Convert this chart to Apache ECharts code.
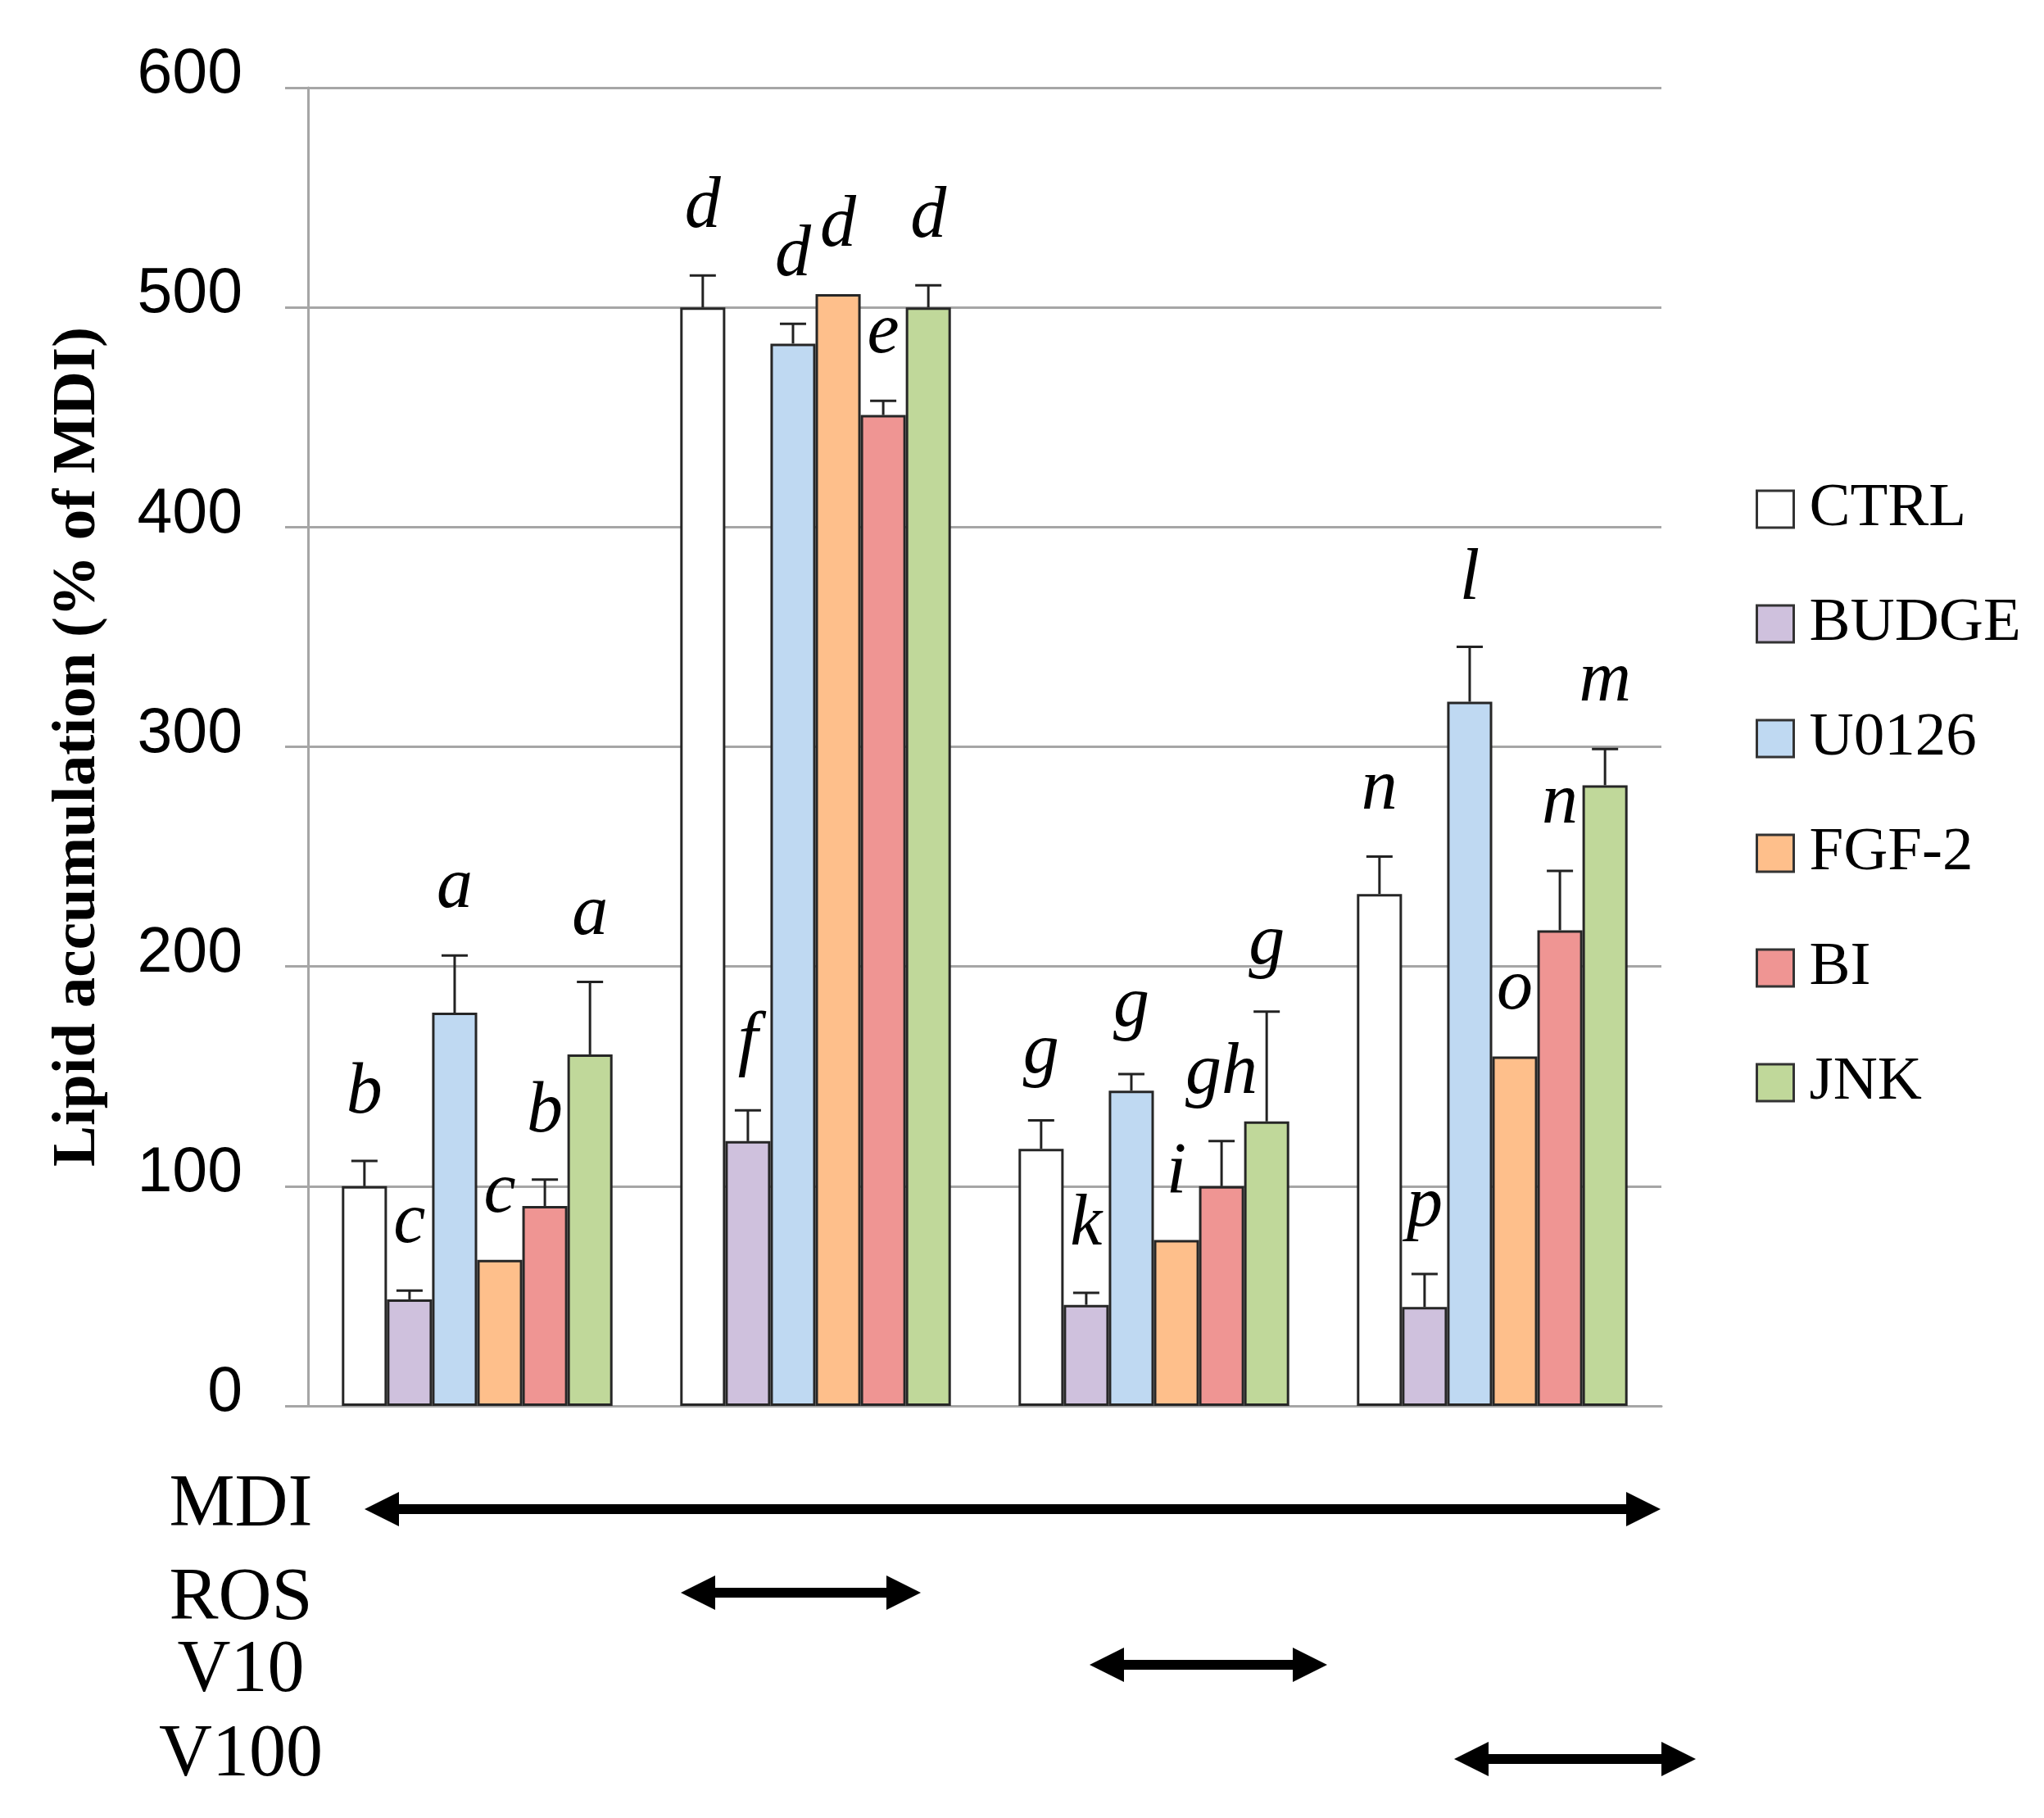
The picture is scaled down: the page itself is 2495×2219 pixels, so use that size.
<!DOCTYPE html>
<html lang="en">
  <head>
    <meta charset="UTF-8" />
    <title>Lipid accumulation</title>
    <script src="https://cdn.jsdelivr.net/npm/echarts@6.0.0/dist/echarts.min.js"></script>
    <style>
      body { margin: 0; background: #fff; }
    </style>
  </head>
  <body>
    <div id="main" style="width: 2495px; height: 2219px"></div>
  </body>
  <script>
    // groups along the x axis (labels are hidden, treatments shown below)
    const groups = ["MDI", "MDI+ROS", "MDI+V10", "MDI+V100"];
    const names = ["CTRL", "BUDGE", "U0126", "FGF-2", "BI", "JNK"];
    const colors = ["#ffffff", "#cfc1dd", "#bfd9f2", "#febf8b", "#ef9593", "#c0d89a"];

    // mean values
    const ctrl = [100, 500, 117, 233];
    const budge = [48.5, 120.5, 46, 45];
    const u0126 = [179, 483.5, 143.5, 320.5];
    const fgf2 = [66.5, 506, 75.5, 159];
    const bi = [91, 451, 100, 216.5];
    const jnk = [160, 500, 129.5, 282.5];

    // upper error
    const ctrlErr = [11.5, 14.5, 13, 17];
    const budgeErr = [4, 14, 5.5, 15];
    const u0126Err = [26, 9, 7.5, 25];
    const fgf2Err = [0, 0, 0, 0];
    const biErr = [12, 6.5, 20.5, 27];
    const jnkErr = [33, 10, 50, 16.5];

    // significance letters
    const ctrlSig = ["b", "d", "g", "n"];
    const budgeSig = ["c", "f", "k", "p"];
    const u0126Sig = ["a", "d", "g", "l"];
    const fgf2Sig = ["c", "d", "i", "o"];
    const biSig = ["b", "e", "gh", "n"];
    const jnkSig = ["a", "d", "g", "m"];

    const yTicks = [0, 100, 200, 300, 400, 500, 600];

    const values = [ctrl, budge, u0126, fgf2, bi, jnk];
    const errs = [ctrlErr, budgeErr, u0126Err, fgf2Err, biErr, jnkErr];
    const sigs = [ctrlSig, budgeSig, u0126Sig, fgf2Sig, biSig, jnkSig];

    // treatment rows under the chart: [label, arrow from x, to x, arrow y, label y]
    const treatments = [
      ["MDI", 445, 2027, 1842, 1838],
      ["ROS", 831, 1124, 1944, 1952],
      ["V10", 1330, 1620, 2032, 2040],
      ["V100", 1775, 2070, 2147, 2143],
    ];

    const gray = "#a6a6a6";
    const serif = "Liberation Serif";

    var myChart = echarts.init(document.getElementById("main"));

    // flat data for error bars + letters
    const errData = [];
    const errLetters = [];
    values.forEach((arr, s) => {
      arr.forEach((v, g) => {
        errData.push([g, v, errs[s][g], s]);
        errLetters.push(sigs[s][g]);
      });
    });

    function arrowPoints(x1, x2, y) {
      const t = 6, h = 42, w = 21;
      return [
        [x1, y], [x1 + h, y - w], [x1 + h, y - t], [x2 - h, y - t],
        [x2 - h, y - w], [x2, y], [x2 - h, y + w], [x2 - h, y + t],
        [x1 + h, y + t], [x1 + h, y + w],
      ];
    }

    const graphics = [];
    treatments.forEach((t) => {
      graphics.push({
        type: "text",
        x: 294,
        y: t[4],
        style: {
          text: t[0],
          fontSize: 90,
          fontFamily: serif,
          fill: "#000",
          align: "center",
          verticalAlign: "middle",
        },
      });
      graphics.push({
        type: "polygon",
        shape: { points: arrowPoints(t[1], t[2], t[3]) },
        style: { fill: "#000" },
      });
    });

    const barSeries = names.map((n, s) => ({
      name: n,
      type: "bar",
      data: values[s],
      barGap: "0%",
      barCategoryGap: "20%",
      itemStyle: { color: colors[s], borderColor: "#262626", borderWidth: 3 },
    }));

    var option = {
      animation: false,
      grid: { left: 376, right: 467, top: 107, bottom: 503 },
      legend: {
        data: names,
        orient: "vertical",
        left: 2143,
        top: 584,
        padding: 0,
        itemWidth: 45,
        itemHeight: 45,
        itemGap: 65,
        icon: "rect",
        itemStyle: { borderColor: "#333", borderWidth: 3 },
        textStyle: {
          fontSize: 75,
          lineHeight: 74,
          fontFamily: serif,
          color: "#000",
          padding: [0, 0, 0, 14],
        },
      },
      xAxis: {
        type: "category",
        data: groups,
        axisLine: { lineStyle: { color: gray, width: 3 } },
        axisTick: { length: 29, lineStyle: { color: gray, width: 3 } },
        axisLabel: { show: false },
      },
      yAxis: {
        type: "value",
        min: yTicks[0],
        max: yTicks[yTicks.length - 1],
        interval: 100,
        name: "Lipid accumulation (% of MDI)",
        nameLocation: "middle",
        nameGap: 243,
        nameTextStyle: {
          fontSize: 75,
          fontWeight: "bold",
          fontFamily: serif,
          color: "#000",
        },
        axisLine: { show: true, lineStyle: { color: gray, width: 3 } },
        axisTick: { show: true, length: 28, lineStyle: { color: gray, width: 3 } },
        splitLine: { lineStyle: { color: gray, width: 3 } },
        axisLabel: {
          margin: 80,
          fontSize: 77,
          fontFamily: "Liberation Sans",
          color: "#000",
          verticalAlign: "bottom",
          lineHeight: 30,
        },
      },
      graphic: graphics,
      series: barSeries.concat([
        {
          type: "custom",
          data: errData,
          z: 5,
          silent: true,
          renderItem: function (params, api) {
            const g = api.value(0);
            const v = api.value(1);
            const e = api.value(2);
            const s = api.value(3);
            const bw = (api.size([1, 0])[0] * 0.8) / 6;
            const base = api.coord([g, v]);
            const cx = base[0] + (s - 2.5) * bw;
            const top = api.coord([g, v + e])[1];
            const children = [];
            if (e > 0) {
              children.push({
                type: "line",
                shape: { x1: cx, y1: base[1], x2: cx, y2: top },
                style: { stroke: "#222", lineWidth: 3 },
              });
              children.push({
                type: "line",
                shape: { x1: cx - 16, y1: top, x2: cx + 16, y2: top },
                style: { stroke: "#222", lineWidth: 3 },
              });
            }
            children.push({
              type: "text",
              x: cx,
              y: top - 38,
              style: {
                text: errLetters[params.dataIndex],
                fontSize: 88,
                fontStyle: "italic",
                fontFamily: serif,
                fill: "#000",
                align: "center",
                verticalAlign: "bottom",
              },
            });
            return { type: "group", children: children };
          },
        },
      ]),
    };

    myChart.setOption(option);
  </script>
</html>
